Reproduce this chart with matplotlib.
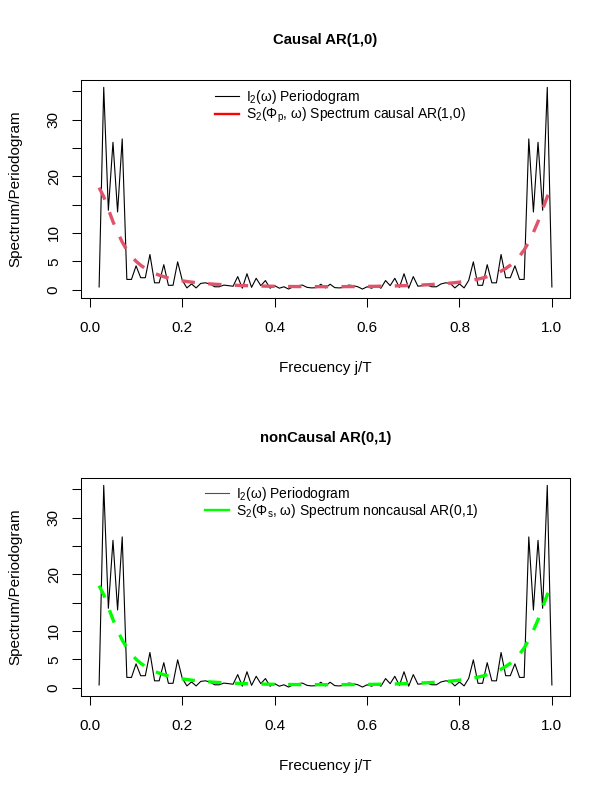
import numpy as np
import matplotlib
matplotlib.use("Agg")
import matplotlib.pyplot as plt

plt.rcParams['font.family'] = ['Liberation Sans', 'DejaVu Sans']
plt.rcParams['mathtext.fontset'] = 'custom'
plt.rcParams['mathtext.rm'] = 'Liberation Sans'
plt.rcParams['mathtext.it'] = 'Liberation Sans'
plt.rcParams['mathtext.bf'] = 'Liberation Sans:bold'

# frequencies j/T
T = 100
j = np.arange(2, T + 1)
freq = j / T

# periodogram values
periodogram = [0.47, 35.7, 14.0, 26.0, 13.7, 26.6, 1.8, 1.8, 4.2, 2.1,
               2.1, 6.2, 1.2, 1.2, 4.4, 0.76, 0.76, 4.9, 1.64, 0.3,
               1.0, 0.3, 1.1, 1.2, 1.0, 0.5, 0.5, 0.8, 0.7, 0.6,
               2.3, 0.25, 2.8, 0.4, 2.0, 0.7, 1.6, 0.25, 0.7, 0.25,
               0.5, 0.1, 0.5, 0.7, 0.8, 0.4, 0.3, 0.35, 0.95, 0.3,
               0.95, 0.35, 0.3, 0.4, 0.8, 0.7, 0.5, 0.1, 0.5, 0.25,
               0.7, 0.25, 1.6, 0.7, 2.0, 0.4, 2.8, 0.25, 2.3, 0.6,
               0.7, 0.8, 0.5, 0.5, 1.0, 1.2, 1.1, 0.3, 1.0, 0.3,
               1.64, 4.9, 0.76, 0.76, 4.4, 1.2, 1.2, 6.2, 2.1, 2.1,
               4.2, 1.8, 1.8, 26.6, 13.7, 26.0, 14.0, 35.7, 0.47]

# theoretical spectrum (dashed curve), same in both panels
spec_causal = [18.0, 16.4, 14.2, 12.0, 10.1, 8.4, 7.0, 5.9, 5.0, 4.3,
               3.73, 3.26, 2.87, 2.55, 2.28, 2.05, 1.86, 1.69, 1.55, 1.43,
               1.32, 1.23, 1.15, 1.08, 1.01, 0.955, 0.904, 0.859, 0.819, 0.783,
               0.75, 0.721, 0.695, 0.671, 0.65, 0.631, 0.614, 0.599, 0.585, 0.573,
               0.562, 0.553, 0.545, 0.538, 0.532, 0.528, 0.524, 0.522, 0.52, 0.52,
               0.52, 0.522, 0.524, 0.528, 0.532, 0.538, 0.545, 0.553, 0.562, 0.573,
               0.585, 0.599, 0.614, 0.631, 0.65, 0.671, 0.695, 0.721, 0.75, 0.783,
               0.819, 0.859, 0.904, 0.955, 1.01, 1.08, 1.15, 1.23, 1.32, 1.43,
               1.55, 1.69, 1.86, 2.05, 2.28, 2.55, 2.87, 3.26, 3.73, 4.3,
               5.0, 5.9, 7.0, 8.4, 10.1, 12.0, 14.2, 16.4, 18.0]
spec_noncausal = list(spec_causal)

xticks = [0.0, 0.2, 0.4, 0.6, 0.8, 1.0]
yticks = [0, 5, 10, 15, 20, 25, 30, 35]
ytick_labels = ['0', '5', '10', '', '20', '', '30', '']

panels = [
    ("Causal AR(1,0)", spec_causal, '#DF536B', 'red', 'black',
     'S$_2$(Φ$_p$, ω) Spectrum causal AR(1,0)', 0.274, 0.962),
    ("nonCausal AR(0,1)", spec_noncausal, '#00FF00', '#00FF00', '#505050',
     'S$_2$(Φ$_s$, ω) Spectrum noncausal AR(0,1)', 0.2536, 0.97),
]

W, H = 610, 796
fig = plt.figure(figsize=(W / 100, H / 100), dpi=100)

tops = [80, 478]
for (title, spec, col, legcol, pcol, speclab, lx, ly), top in zip(panels, tops):
    ax = fig.add_axes([81 / W, 1 - (top + 218) / H, 489 / W, 218 / H])
    ax.plot(freq, periodogram, color='black', lw=0.8)
    ax.plot(freq, spec, color=col, lw=2.4, dashes=(4, 4))
    ax.set_xlim(-0.0192, 1.0392)
    ax.set_ylim(-1.48, 37.0)
    ax.set_xticks(xticks)
    ax.set_xticklabels(['%.1f' % v for v in xticks])
    ax.set_yticks(yticks)
    ax.set_yticklabels(ytick_labels)
    plt.setp(ax.get_yticklabels(), rotation=90, va='center')
    ax.tick_params(direction='out', length=6.5, width=0.75, labelsize=11)
    ax.tick_params(axis='x', pad=10)
    ax.tick_params(axis='y', pad=8.0)
    for s in ax.spines.values():
        s.set_linewidth(0.75)

    ax.set_title(title, fontsize=10.7, fontweight='bold', y=1.1835, pad=0, va='center')
    ax.set_xlabel('Frecuency j/T', fontsize=11)
    ax.set_ylabel('Spectrum/Periodogram', fontsize=11)
    ax.xaxis.set_label_coords(0.5, -0.321)
    ax.xaxis.label.set_va('center')
    ax.yaxis.set_label_coords(-0.135, 0.5)
    ax.yaxis.label.set_va('center')

    h1, = ax.plot([], [], color=pcol, lw=0.8)
    h2, = ax.plot([], [], color=legcol, lw=1.7)
    ax.legend([h1, h2], ['I$_2$(ω) Periodogram', speclab],
              loc='upper left', bbox_to_anchor=(lx, ly), frameon=False,
              fontsize=10, borderpad=0, borderaxespad=0,
              handlelength=1.75, handletextpad=0.5, labelspacing=-0.04)

fig.savefig('out.png', dpi=100)
